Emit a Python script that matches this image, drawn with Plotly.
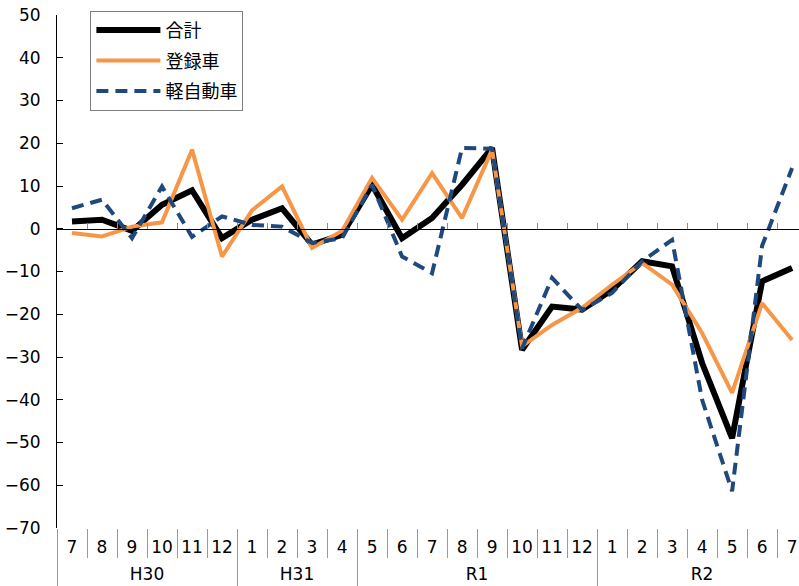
import plotly.graph_objects as go

months = ["7", "8", "9", "10", "11", "12", "1", "2", "3", "4", "5", "6", "7", "8", "9",
          "10", "11", "12", "1", "2", "3", "4", "5", "6", "7"]
eras = ["H30"] * 6 + ["H31"] * 4 + ["R1"] * 8 + ["R2"] * 7

total = [1.7, 2.1, -0.5, 5.6, 9.0, -2.2, 2.1, 4.8, -3.7, -1.4, 10.3, -2.2, 2.5, 10.3, 18.9,
         -28.3, -18.2, -18.9, -14.3, -7.6, -8.8, -31.4, -49.0, -12.3, -9.2]
registered = [-1.0, -1.8, 0.5, 1.5, 18.5, -6.5, 4.3, 9.9, -4.5, -0.5, 11.9, 2.1, 13.0, 2.5, 18.5,
              -27.5, -22.5, -18.5, -13.1, -8.0, -13.1, -24.4, -38.4, -17.4, -26.0]
kei = [4.8, 6.8, -2.2, 9.9, -1.9, 2.9, 0.9, 0.5, -3.3, -2.2, 10.3, -6.5, -10.4, 18.9, 18.7,
       -28.0, -11.5, -19.0, -15.0, -7.6, -2.6, -40.0, -61.4, -4.0, 14.2]

yticks = [50, 40, 30, 20, 10, 0, -10, -20, -30, -40, -50, -60, -70]

names = ["合計", "登録車", "軽自動車"]
colors = ["#000000", "#F79646", "#1F497D"]

NUMFONT = "DejaVu Sans, Noto Sans CJK JP"
JPFONT = "Noto Sans CJK JP, DejaVu Sans"

n = len(months)
idx = list(range(n))
xr = [-0.5, n - 0.77]
boundaries = [i + 0.5 for i in range(n - 1)]

# era groups (labels centred on their months, dividers on group edges)
era_names, era_centers, era_edges = [], [], [-0.5]
start = 0
for i in range(1, n + 1):
    if i == n or eras[i] != eras[start]:
        era_names.append(eras[start])
        era_centers.append((start + i - 1) / 2)
        era_edges.append(i - 0.5)
        start = i

fig = go.Figure()
fig.add_trace(go.Scatter(x=idx, y=total, name=names[0], mode="lines", legendgroup="a",
                         line=dict(color=colors[0], width=6)))
fig.add_trace(go.Scatter(x=idx, y=registered, name=names[1], mode="lines", legendgroup="b",
                         line=dict(color=colors[1], width=4)))
fig.add_trace(go.Scatter(x=idx, y=kei, name=names[2], mode="lines", legendgroup="c",
                         line=dict(color=colors[2], width=4, dash="12px,7px")))

# helper traces so the auxiliary axes are drawn
for ax in ["x2", "x3", "x4", "x5"]:
    fig.add_trace(go.Scatter(x=[0, n - 1], y=[None, None], xaxis=ax, showlegend=False,
                             hoverinfo="skip", mode="lines"))

common = dict(overlaying="x", anchor="free", side="bottom", range=xr,
              showgrid=False, zeroline=False)

fig.update_layout(
    width=799, height=586,
    margin=dict(l=57, r=0, t=15, b=58, autoexpand=False),
    paper_bgcolor="white", plot_bgcolor="white",
    font=dict(family=NUMFONT, size=17, color="#000000"),
    showlegend=True,
    legend=dict(x=0.045, y=1.008, xanchor="left", yanchor="top",
                bgcolor="white", bordercolor="#808080", borderwidth=1,
                font=dict(family=JPFONT, size=18, color="#000000"),
                itemwidth=64, tracegroupgap=4),
    xaxis=dict(range=xr, tickmode="array", tickvals=idx, ticktext=months,
               showline=False, showgrid=False, zeroline=False, ticks="",
               ticklabelstandoff=7, tickfont=dict(family=NUMFONT, size=17)),
    xaxis2=dict(position=70 / 120, tickmode="array", tickvals=boundaries,
                showticklabels=False, ticks="inside", ticklen=6, tickcolor="#8c8c8c",
                tickwidth=1, showline=True, linecolor="#000000", linewidth=1, **common),
    xaxis3=dict(position=0, tickmode="array", tickvals=boundaries, showticklabels=False,
                ticks="outside", ticklen=29, tickcolor="#9a9a9a", tickwidth=1,
                showline=False, **common),
    xaxis4=dict(position=0, tickmode="array", tickvals=era_centers, ticktext=era_names,
                ticks="", showline=False, ticklabelstandoff=34,
                tickfont=dict(family=NUMFONT, size=17), **common),
    xaxis5=dict(position=0, tickmode="array", tickvals=era_edges, showticklabels=False,
                ticks="outside", ticklen=60, tickcolor="#9a9a9a", tickwidth=1,
                showline=False, **common),
    yaxis=dict(range=[-70, 50], tickmode="array", tickvals=yticks,
               ticktext=[("−" + str(-v)) if v < 0 else str(v) for v in yticks],
               ticks="inside", ticklen=6, tickcolor="#000000",
               showline=True, linecolor="#000000", linewidth=1,
               showgrid=False, zeroline=False, ticklabelstandoff=12,
               tickfont=dict(family=NUMFONT, size=17)),
)

fig.write_html("out.html", config={"displayModeBar": False},
               post_script="document.body.style.margin='0';")
